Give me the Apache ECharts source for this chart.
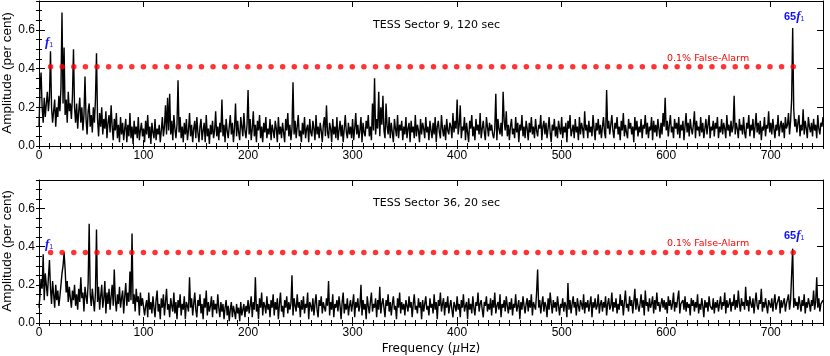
<!DOCTYPE html>
<html>
<head>
<meta charset="utf-8">
<script src="https://cdn.jsdelivr.net/npm/echarts@6/dist/echarts.min.js"></script>
<style>
html,body{margin:0;padding:0;background:#fff;}
#chart{width:830px;height:356px;}
</style>
</head>
<body>
<div id="chart"></div>
<script>
// ---------- DATA ----------
var freqStep = 1;    // µHz between samples
var ampUnit = 0.01;  // amplitudes below are in units of 0.01 per cent
var f1 = 11.1;       // fundamental frequency (µHz)
var nHarm = 65;      // number of harmonics marked
var faTop = 0.41;    // 0.1% false-alarm level, Sector 9
var faBot = 0.37;    // 0.1% false-alarm level, Sector 36
var xTicks = [0, 100, 200, 300, 400, 500, 600, 700];
var yTicks = [0.0, 0.2, 0.4, 0.6];

// Sector 9 (120 s) amplitude spectrum, 0..750 µHz every 1 µHz (units 0.01 %)
var ampS9 = [
10,30,38,20,12,25,15,22,28,18,25,49,20,12,18,24,10,20,15,26,18,30,69,22,51,
16,24,12,28,18,22,14,26,50,20,12,22,9,18,25,12,20,8,16,36,14,6,18,22,10,
16,7,20,12,24,48,14,5,17,10,20,6,14,9,18,4,12,16,7,21,10,3,14,8,17,
4,11,2,15,6,12,3,9,14,2,11,5,17,4,10,1,13,6,10,4,15,3,8,12,5,
9,2,13,6,16,4,10,1,12,7,4,14,3,9,6,11,2,8,15,5,10,21,6,25,8,
27,6,13,3,16,9,4,11,34,7,15,4,10,2,12,6,14,3,8,17,5,11,2,9,13,
4,15,7,2,10,14,3,8,12,2,16,5,9,1,11,6,13,4,8,18,5,10,3,12,7,
24,5,11,2,14,8,4,10,16,6,12,2,9,22,5,13,7,3,15,10,5,17,8,4,11,
29,6,14,3,9,18,5,11,2,13,8,16,4,10,2,12,7,15,4,9,6,14,3,11,8,
4,13,9,2,15,6,10,4,12,7,2,14,8,17,5,11,3,9,33,6,13,4,10,16,5,
8,2,12,6,15,4,9,11,2,14,7,5,13,9,3,16,6,10,4,12,8,2,11,15,5,
21,7,4,12,9,2,14,6,10,4,15,3,8,13,5,11,2,9,16,7,4,12,6,10,4,
14,3,9,17,6,11,4,8,15,2,12,7,5,13,9,16,5,10,3,22,8,35,6,14,9,
28,5,20,11,26,8,4,22,10,6,15,4,12,7,2,14,9,5,16,4,11,8,13,3,10,
6,15,4,9,12,2,13,7,10,4,16,5,11,8,2,14,6,12,9,4,15,7,10,3,13,
8,4,12,6,15,2,10,13,7,4,16,9,5,11,3,14,8,6,12,10,4,17,7,13,9,
24,6,11,21,4,10,8,15,3,12,7,2,13,9,16,5,10,3,14,8,11,6,17,4,9,
13,7,3,15,10,5,12,8,11,6,4,9,27,3,14,9,6,12,5,28,13,8,18,5,11,
3,10,14,6,9,4,15,7,12,2,11,8,16,5,10,4,13,9,3,12,7,15,6,10,4,
14,8,5,11,9,16,3,10,13,6,12,4,9,15,7,2,11,8,14,5,10,4,13,9,6,
15,4,10,7,12,2,13,9,16,5,8,11,4,14,7,10,3,15,6,12,9,4,18,8,11,
4,13,7,10,5,16,9,3,12,8,14,6,11,4,10,15,7,4,29,9,13,6,11,16,8,
4,12,9,15,6,10,3,13,8,17,5,11,7,4,14,9,12,6,10,2,15,8,13,5,10,
7,14,4,11,9,16,6,12,4,10,8,15,3,13,7,11,5,14,9,4,12,6,17,10,25,
8,13,5,11,16,7,10,4,14,9,12,6,15,4,11,8,13,3,10,17,7,12,5,14,9,
6,11,18,4,13,8,10,5,15,7,12,4,9,14,6,11,16,4,10,8,13,5,12,9,15,
4,10,7,14,6,12,9,4,16,8,11,5,13,7,10,26,6,12,9,4,14,8,11,6,15,
7,4,12,9,16,5,11,8,14,4,10,17,7,12,6,13,3,10,8,15,5,11,9,18,7,
12,6,14,9,4,11,8,16,5,10,13,7,12,4,15,9,11,17,6,13,24,61,19,10,14,
7,12,16,5,11,8,19,6,13,9,4,15,10,7,12,5,14,8,11,4,16,9,6,12,10,
15
];

// Sector 36 (20 s) amplitude spectrum, 0..750 µHz every 1 µHz (units 0.01 %)
var ampS36 = [
8,15,23,18,36,12,26,20,14,24,33,18,10,22,15,8,20,12,17,9,14,20,26,30,37,
28,16,22,11,19,13,8,17,12,20,9,15,7,18,11,24,13,16,6,19,14,10,21,52,15,
9,18,12,6,16,49,11,19,7,14,20,8,13,22,5,16,10,18,7,14,20,9,28,12,6,
15,10,19,8,13,17,5,14,21,9,16,11,27,12,47,10,15,6,18,11,14,4,16,9,13,
14,4,9,12,3,16,7,11,5,14,8,3,12,17,6,10,2,13,8,15,4,11,18,7,10,
3,13,9,6,16,5,11,2,12,8,15,4,10,7,14,2,11,9,6,24,8,13,4,10,16,
7,3,12,9,15,5,10,2,13,8,17,4,11,6,9,14,3,12,7,10,5,15,8,3,11,
6,10,2,8,12,4,9,1,7,11,3,9,6,2,10,5,8,1,11,4,7,10,3,9,6,
12,5,9,14,3,11,7,24,6,10,2,13,8,16,4,11,9,5,14,7,10,3,12,8,15,
4,11,7,13,2,10,16,6,9,3,12,8,14,5,11,7,10,25,4,13,9,6,15,8,11,
3,12,7,14,5,10,8,16,2,11,9,6,13,4,10,15,7,3,12,9,14,5,11,8,6,
13,9,22,4,11,7,15,3,10,8,12,6,14,9,2,11,16,5,10,7,13,4,9,12,6,
10,15,3,11,8,13,6,9,20,4,12,7,10,2,14,9,5,11,16,6,10,8,13,3,12,
7,19,5,10,13,8,3,12,9,15,6,11,4,10,14,7,9,2,13,8,16,5,11,7,10,
4,12,9,6,14,8,11,3,10,15,7,9,5,13,8,11,2,12,6,10,14,7,9,4,13,
8,10,5,15,7,11,2,12,9,16,6,10,13,4,11,8,14,5,9,12,7,3,11,9,6,
14,7,10,3,12,8,15,6,9,11,2,13,7,10,5,14,8,4,11,9,16,6,10,12,7,
3,11,9,14,6,10,7,13,4,12,8,16,5,9,11,7,15,3,10,8,12,6,14,9,5,
11,7,13,4,10,8,15,6,9,12,2,11,7,14,9,5,10,13,6,12,8,15,4,11,9,
7,16,28,8,12,5,10,14,6,11,9,3,13,7,16,10,5,12,8,11,6,14,9,4,10,
8,13,6,11,9,3,21,7,12,5,10,14,8,11,4,13,9,6,12,10,7,15,5,11,8,
12,6,10,14,3,11,8,13,7,9,15,5,10,12,6,11,8,14,4,10,13,7,9,16,6,
11,8,13,5,10,7,15,9,12,4,11,17,8,10,6,14,9,12,5,11,18,7,13,9,6,
10,15,8,12,4,17,9,11,6,13,8,10,14,5,12,7,16,9,11,6,10,13,8,12,7,
11,5,14,9,12,7,10,16,6,11,8,13,17,5,10,9,12,7,14,6,11,8,10,4,13,
9,12,6,11,8,15,5,10,7,13,9,3,12,8,11,6,14,9,10,7,13,5,11,8,12,
6,10,14,7,11,9,16,5,12,8,10,13,6,11,9,15,7,12,8,17,10,6,13,9,11,
7,19,9,12,6,14,10,8,13,5,11,16,9,7,12,10,18,6,11,8,13,9,5,12,10,
8,13,6,11,15,7,10,9,14,5,12,8,11,13,6,10,9,15,7,12,11,39,8,13,9,
11,7,14,10,6,12,9,15,5,11,8,13,10,6,12,9,17,7,11,24,8,13,6,10,9,
12
];

// ---------- BUILD ----------
function buildSeries(amp) {
  return amp.map(function (v, i) { return [i * freqStep, +(v * ampUnit).toFixed(3)]; });
}
function harmonics(level) {
  var out = [];
  for (var n = 1; n <= nHarm; n++) out.push([+(n * f1).toFixed(2), level]);
  return out;
}

var XMAX = 750, YMAX = 0.75;
var LEFT = 39, WIDTH = 784;
var grids = [
  { left: LEFT, top: 1, width: WIDTH, height: 145 },
  { left: LEFT, top: 180, width: WIDTH, height: 143 }
];
var labelFont = { color: '#000', fontFamily: 'Liberation Sans', fontSize: 12 };

var xAxes = [], yAxes = [];
grids.forEach(function (g, gi) {
  xAxes.push({ gridIndex: gi, type: 'value', min: 0, max: XMAX, interval: 100, position: 'bottom',
    axisLine: { show: true, onZero: false, lineStyle: { color: '#000', width: 1 } },
    axisTick: { show: true, inside: true, length: 6, lineStyle: { color: '#000' } },
    axisLabel: Object.assign({ show: true, margin: 4, showMaxLabel: false,
      formatter: function (v) { return xTicks.indexOf(v) >= 0 ? String(v) : ''; } }, labelFont),
    splitLine: { show: false } });
  xAxes.push({ gridIndex: gi, type: 'value', min: 0, max: XMAX, interval: 10, position: 'bottom',
    axisLine: { show: false }, axisTick: { show: true, inside: true, length: 3, lineStyle: { color: '#000' } },
    axisLabel: { show: false }, splitLine: { show: false } });
  xAxes.push({ gridIndex: gi, type: 'value', min: 0, max: XMAX, interval: 100, position: 'top',
    axisLine: { show: true, onZero: false, lineStyle: { color: '#000', width: 1 } },
    axisTick: { show: true, inside: true, length: 6, lineStyle: { color: '#000' } },
    axisLabel: { show: false }, splitLine: { show: false } });
  xAxes.push({ gridIndex: gi, type: 'value', min: 0, max: XMAX, interval: 10, position: 'top',
    axisLine: { show: false }, axisTick: { show: true, inside: true, length: 3, lineStyle: { color: '#000' } },
    axisLabel: { show: false }, splitLine: { show: false } });

  yAxes.push({ gridIndex: gi, type: 'value', min: 0, max: YMAX, interval: 0.2, position: 'left',
    axisLine: { show: true, onZero: false, lineStyle: { color: '#000', width: 1 } },
    axisTick: { show: true, inside: true, length: 6, lineStyle: { color: '#000' } },
    axisLabel: Object.assign({ show: true, margin: 4, showMaxLabel: false,
      formatter: function (v) {
        for (var k = 0; k < yTicks.length; k++) if (Math.abs(yTicks[k] - v) < 1e-6) return yTicks[k].toFixed(1);
        return '';
      } }, labelFont),
    splitLine: { show: false } });
  yAxes.push({ gridIndex: gi, type: 'value', min: 0, max: YMAX, interval: 0.05, position: 'left',
    axisLine: { show: false }, axisTick: { show: true, inside: true, length: 3, lineStyle: { color: '#000' } },
    axisLabel: { show: false }, splitLine: { show: false } });
  yAxes.push({ gridIndex: gi, type: 'value', min: 0, max: YMAX, interval: 0.2, position: 'right',
    axisLine: { show: true, onZero: false, lineStyle: { color: '#000', width: 1 } },
    axisTick: { show: true, inside: true, length: 6, lineStyle: { color: '#000' } },
    axisLabel: { show: false }, splitLine: { show: false } });
  yAxes.push({ gridIndex: gi, type: 'value', min: 0, max: YMAX, interval: 0.05, position: 'right',
    axisLine: { show: false }, axisTick: { show: true, inside: true, length: 3, lineStyle: { color: '#000' } },
    axisLabel: { show: false }, splitLine: { show: false } });
});

var series = [
  { type: 'line', xAxisIndex: 0, yAxisIndex: 0, data: buildSeries(ampS9), symbol: 'none',
    lineStyle: { color: '#000', width: 1.4 }, animation: false, z: 2 },
  { type: 'scatter', xAxisIndex: 0, yAxisIndex: 0, data: harmonics(faTop), symbol: 'circle', symbolSize: 5.5,
    itemStyle: { color: '#ff0000' }, animation: false, z: 3 },
  { type: 'line', xAxisIndex: 4, yAxisIndex: 4, data: buildSeries(ampS36), symbol: 'none',
    lineStyle: { color: '#000', width: 1.4 }, animation: false, z: 2 },
  { type: 'scatter', xAxisIndex: 4, yAxisIndex: 4, data: harmonics(faBot), symbol: 'circle', symbolSize: 5.5,
    itemStyle: { color: '#ff0000' }, animation: false, z: 3 }
];

var blue = '#1010ff';
function f1Label(x, y, prefix) {
  return { type: 'text', left: x, top: y, z: 10,
    style: { text: (prefix ? '{n|' + prefix + '}' : '') + '{i|f}{s|1}',
      rich: {
        n: { fill: blue, fontFamily: 'Liberation Sans', fontWeight: 'bold', fontSize: 11 },
        i: { fill: blue, fontFamily: 'Liberation Serif', fontStyle: 'italic', fontWeight: 'bold', fontSize: 13 },
        s: { fill: blue, fontFamily: 'Liberation Sans', fontSize: 7, verticalAlign: 'bottom', padding: [6, 0, 0, 0] }
      } } };
}
var titleStyle = { fill: '#000', fontFamily: 'DejaVu Sans', fontSize: 11 };
var redStyle = { fill: '#ff0000', fontFamily: 'DejaVu Sans', fontSize: 9.5 };

var graphic = [
  { type: 'text', left: 373, top: 20, style: Object.assign({ text: 'TESS Sector 9, 120 sec' }, titleStyle) },
  { type: 'text', left: 373, top: 198, style: Object.assign({ text: 'TESS Sector 36, 20 sec' }, titleStyle) },
  { type: 'text', left: 667, top: 54, style: Object.assign({ text: '0.1% False-Alarm' }, redStyle) },
  { type: 'text', left: 667, top: 239, style: Object.assign({ text: '0.1% False-Alarm' }, redStyle) },
  f1Label(45, 36, ''),
  f1Label(45, 238, ''),
  f1Label(784, 10, '65'),
  f1Label(784, 229, '65'),
  { type: 'text', x: 7, y: 73, rotation: Math.PI / 2,
    style: { text: 'Amplitude (per cent)', fill: '#000', fontFamily: 'Liberation Sans', fontSize: 13.5, textAlign: 'center', textVerticalAlign: 'middle' } },
  { type: 'text', x: 7, y: 251, rotation: Math.PI / 2,
    style: { text: 'Amplitude (per cent)', fill: '#000', fontFamily: 'Liberation Sans', fontSize: 13.5, textAlign: 'center', textVerticalAlign: 'middle' } },
  { type: 'text', x: 431, y: 349,
    style: { text: 'Frequency ({m|µ}Hz)', fill: '#000', fontFamily: 'DejaVu Sans', fontSize: 12, textAlign: 'center', textVerticalAlign: 'middle',
      rich: { m: { fill: '#000', fontFamily: 'DejaVu Serif', fontStyle: 'italic', fontSize: 12 } } } }
];

var chart = echarts.init(document.getElementById('chart'), null, { renderer: 'canvas' });
chart.setOption({
  animation: false,
  backgroundColor: '#fff',
  grid: grids,
  xAxis: xAxes,
  yAxis: yAxes,
  series: series,
  graphic: graphic
});
</script>
</body>
</html>
